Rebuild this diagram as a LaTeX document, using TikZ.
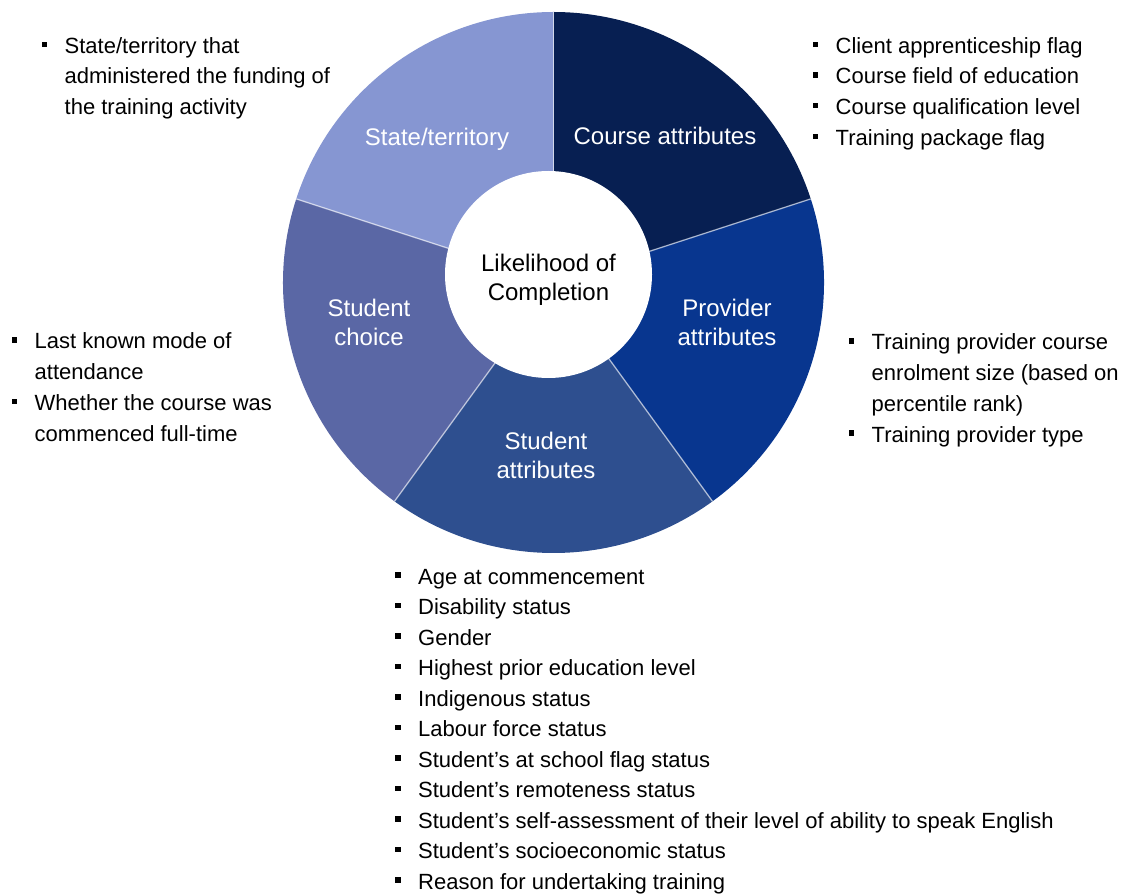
\documentclass[tikz,border=0pt]{standalone}
\usepackage{fontspec}
\setmainfont{Liberation Sans}
\usepackage{tikz}
\usetikzlibrary{positioning}

\definecolor{stateblue}{RGB}{134,150,210}
\definecolor{courseblue}{RGB}{7,31,82}
\definecolor{providerblue}{RGB}{8,54,143}
\definecolor{studentblue}{RGB}{46,79,143}
\definecolor{choiceblue}{RGB}{90,103,165}

\newcommand{\bul}{\makebox[23pt][l]{\rule[6.2pt]{5.5pt}{5.5pt}}}
\newcommand{\ind}{\hspace*{23pt}}

\tikzset{
  seglabel/.style={text=white,align=center,inner sep=0pt,font=\fontsize{24}{29}\selectfont},
  listline/.style={anchor=base west,inner sep=0pt,font=\fontsize{22}{26}\selectfont},
  sepline/.style={draw=white,draw opacity=0.6,line width=1.3pt}
}

\begin{document}
\begin{tikzpicture}[x=1pt,y=1pt]
\useasboundingbox (0,0) rectangle (1124,895);
\coordinate (ctr) at (553.5,612.5);
\foreach \a/\c in {90/courseblue,18/providerblue,-54/studentblue,-126/choiceblue,162/stateblue}
 {\fill[\c] (ctr) -- ++(\a:270.5) arc[start angle=\a,delta angle=-72,radius=270.5] -- cycle;}
\foreach \a in {90,18,-54,-126,162}
 {\draw[sepline] (ctr) -- ++(\a:270.5);}
\node[circle,fill=white,minimum size=207,inner sep=0pt] (core) at (548.5,620.5) {};
\node[align=center,inner sep=0pt,font=\fontsize{24}{29}\selectfont] (corelabel) at (548.5,615.5) {Likelihood of\\Completion};
\node[seglabel] (state) at (437,756) {State/territory};
\node[seglabel] (course) at (665,759) {Course attributes};
\node[seglabel] (provider) at (727,572.5) {Provider\\attributes};
\node[seglabel] (student) at (546,439.5) {Student\\attributes};
\node[seglabel] (choice) at (369,572.5) {Student\\choice};
\foreach \t [count=\i] in {\bul State/territory that,\ind administered the funding of,\ind the training activity}
 {\node[listline] (statelist\i) at (41.5,{841.7-30.7*(\i-1)}) {\t};}
\foreach \t [count=\i] in {\bul Client apprenticeship flag,\bul Course field of education,
  \bul Course qualification level,\bul Training package flag}
 {\node[listline] (courselist\i) at (812.5,{841.7-30.7*(\i-1)}) {\t};}
\foreach \t [count=\i] in {\bul Last known mode of,\ind attendance,\bul Whether the course was,\ind commenced full-time}
 {\node[listline] (choicelist\i) at (11.5,{546-30.7*(\i-1)}) {\t};}
\foreach \t [count=\i] in {\bul Training provider course,\ind enrolment size (based on,\ind percentile rank),\bul Training provider type}
 {\node[listline] (providerlist\i) at (848.5,{545-30.7*(\i-1)}) {\t};}
\foreach \t [count=\i] in {Age at commencement,Disability status,Gender,Highest prior education level,
  Indigenous status,Labour force status,Student’s at school flag status,Student’s remoteness status,
  Student’s self-assessment of their level of ability to speak English,Student’s socioeconomic status,
  Reason for undertaking training}
 {\node[listline] (studentlist\i) at (395,{311-30.5*(\i-1)}) {\bul\t};}
\end{tikzpicture}
\end{document}
